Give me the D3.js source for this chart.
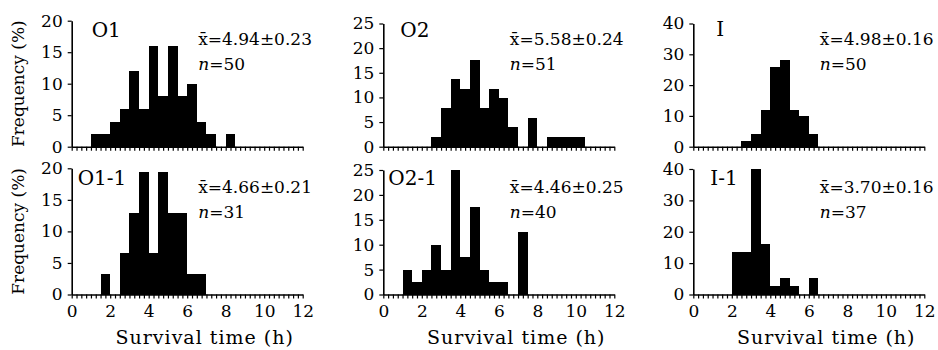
<!DOCTYPE html>
<html>
<head>
<meta charset="utf-8">
<script src="https://cdn.jsdelivr.net/npm/d3@7"></script>
<style>
  html, body { margin: 0; padding: 0; background: #fff; }
  svg { display: block; }
  text { font-family: "DejaVu Serif", "Liberation Serif", serif; fill: #000; }
</style>
</head>
<body>
<svg id="chart" width="938" height="350"></svg>
<script>
// ---- data ----
const binStarts = [1.0, 1.5, 2.0, 2.5, 3.0, 3.5, 4.0, 4.5, 5.0, 5.5, 6.0, 6.5, 7.0, 7.5, 8.0, 8.5, 9.0, 9.5, 10.0];
const binWidth = 0.5;
const freqO1   = [2, 2, 4, 6, 12, 6, 16, 8, 16, 8, 10, 4, 2, 0, 2, 0, 0, 0, 0];
const freqO1_1 = [0, 3.2, 0, 6.5, 12.9, 19.4, 6.5, 19.4, 12.9, 12.9, 3.2, 3.2, 0, 0, 0, 0, 0, 0, 0];
const freqO2   = [0, 0, 0, 2.0, 7.8, 13.7, 11.8, 17.6, 7.8, 11.8, 9.8, 3.9, 0, 5.9, 0, 2.0, 2.0, 2.0, 2.0];
const freqO2_1 = [5, 2.5, 5, 10, 5, 25, 7.5, 17.5, 5, 2.5, 2.5, 0, 12.5, 0, 0, 0, 0, 0, 0];
const freqI    = [0, 0, 0, 2, 4, 12, 26, 28, 12, 10, 4, 0, 0, 0, 0, 0, 0, 0, 0];
const freqI_1  = [0, 0, 13.5, 13.5, 40, 16.2, 2.7, 5.4, 2.7, 0, 5.4, 0, 0, 0, 0, 0, 0, 0, 0];

const panelNames = ["O1", "O2", "I", "O1-1", "O2-1", "I-1"];
const meanLabels = ["4.94±0.23", "5.58±0.24", "4.98±0.16", "4.66±0.21", "4.46±0.25", "3.70±0.16"];
const nLabels    = ["50", "51", "50", "31", "40", "37"];
const yMaxes     = [20, 25, 40, 20, 25, 40];
const yTickSets  = [[0,5,10,15,20],[0,5,10,15,20,25],[0,10,20,30,40],[0,5,10,15,20],[0,5,10,15,20,25],[0,10,20,30,40]];
const xTickLabels = [0, 2, 4, 6, 8, 10, 12];
const xMinorTicks = [0,0.25,0.5,0.75,1,1.25,1.5,1.75,2,2.25,2.5,2.75,3,3.25,3.5,3.75,4,4.25,4.5,4.75,5,5.25,5.5,5.75,6,6.25,6.5,6.75,7,7.25,7.5,7.75,8,8.25,8.5,8.75,9,9.25,9.5,9.75,10,10.25,10.5,10.75,11,11.25,11.5,11.75,12];
const series = [freqO1, freqO2, freqI, freqO1_1, freqO2_1, freqI_1];
const xTitle = "Survival time (h)";
const yTitle = "Frequency (%)";

// ---- layout ----
const colX = [71.7, 383.3, 693.3];
const plotW = 231;
const rowBase = [146.7, 294.5];
const panelTops = [20.7, 23.5, 23.5, 168.3, 170, 169];
const nameOffsets = [[20, 36.7], [17, 36.7], [23, 36], [6, 185], [5, 185], [17, 185]];

const svg = d3.select("#chart");

series.forEach((vals, i) => {
  const col = i % 3, row = Math.floor(i / 3);
  const x0 = colX[col];
  const base = rowBase[row];
  const top = panelTops[i];
  const x = d3.scaleLinear().domain([0, 12]).range([x0, x0 + plotW]);
  const y = d3.scaleLinear().domain([0, yMaxes[i]]).range([base, top]);
  const g = svg.append("g");

  // bars
  g.selectAll("rect").data(binStarts.map((b, k) => ({b, v: vals[k]})).filter(d => d.v > 0))
    .enter().append("rect")
    .attr("x", d => x(d.b))
    .attr("width", d => x(d.b + binWidth) - x(d.b))
    .attr("y", d => y(d.v))
    .attr("height", d => y(0) - y(d.v))
    .attr("fill", "#000")
    .attr("shape-rendering", "crispEdges");

  // x axis (minor ticks)
  const xa = g.append("g").attr("transform", `translate(0,${base})`)
    .call(d3.axisBottom(x).tickValues(xMinorTicks).tickSize(4).tickSizeOuter(0)
      .tickFormat(d => (row === 1 && xTickLabels.includes(d)) ? String(d) : ""));
  xa.select(".domain").attr("stroke-width", 1.6);
  xa.selectAll(".tick line").attr("stroke-width", 1.2);
  xa.selectAll(".tick text").attr("font-family", "DejaVu Serif").attr("font-size", 17).attr("dy", "0.9em");

  // y axis
  const ya = g.append("g").attr("transform", `translate(${x0},0)`)
    .call(d3.axisLeft(y).tickValues(yTickSets[i]).tickSize(4).tickSizeOuter(0).tickPadding(5));
  ya.select(".domain").attr("stroke-width", 1.6);
  ya.selectAll(".tick line").attr("stroke-width", 1.2);
  ya.selectAll(".tick text").attr("font-family", "DejaVu Serif").attr("font-size", 17);

  // panel name
  g.append("text").attr("x", x0 + nameOffsets[i][0]).attr("y", nameOffsets[i][1])
    .attr("font-size", 20).text(panelNames[i]);

  // stats
  const sy = row === 0 ? 45 : 193.3;
  const t1 = g.append("text").attr("x", x0 + 126.5).attr("y", sy).attr("font-size", 17);
  t1.append("tspan").text("x\u0304");
  t1.append("tspan").text("=" + meanLabels[i]);
  const t2 = g.append("text").attr("x", x0 + 126.5).attr("y", sy + 24.5).attr("font-size", 17);
  t2.append("tspan").attr("font-style", "italic").text("n");
  t2.append("tspan").text("=" + nLabels[i]);

  if (row === 1) {
    g.append("text").attr("x", x0 + 133).attr("y", 344).attr("text-anchor", "middle")
      .attr("font-size", 19).attr("letter-spacing", 1).text(xTitle);
  }
  if (col === 0) {
    g.append("text").attr("transform", `translate(24,${(base + top) / 2}) rotate(-90)`)
      .attr("text-anchor", "middle").attr("font-size", 17).text(yTitle);
  }
});
</script>
</body>
</html>
